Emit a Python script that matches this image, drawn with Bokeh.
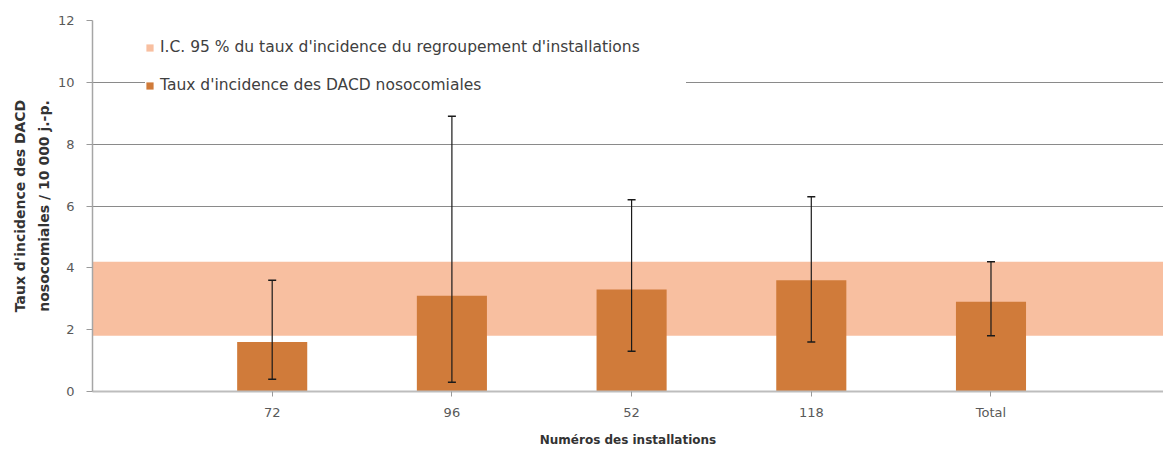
from bokeh.plotting import figure
from bokeh.models import (ColumnDataSource, Whisker, TeeHead, Range1d, FixedTicker,
                          Legend, LegendItem)
from bokeh.embed import file_html
from bokeh.resources import INLINE

# ---- data ----
categories = ["72", "96", "52", "118", "Total"]
rates = [1.6, 3.1, 3.3, 3.6, 2.9]
ci_lower = [0.4, 0.3, 1.3, 1.6, 1.8]
ci_upper = [3.6, 8.9, 6.2, 6.3, 4.2]
group_ci_low = 1.8
group_ci_high = 4.2
y_ticks = [0, 2, 4, 6, 8, 10, 12]

label_band = "I.C. 95 % du taux d'incidence du regroupement d'installations"
label_bars = "Taux d'incidence des DACD nosocomiales"
x_title = "Numéros des installations"
y_title = "Taux d'incidence des DACD\nnosocomiales / 10 000 j.-p."

BAR_COLOR = "#D07B3A"
BAND_COLOR = "#F8BFA0"
FONT = "DejaVu Sans"

xpos = list(range(1, len(categories) + 1))
X_START, X_END = 0, 5.96

src = ColumnDataSource(dict(x=xpos, top=rates, lower=ci_lower, upper=ci_upper))

p = figure(width=1163, height=453, x_range=Range1d(X_START, X_END), y_range=Range1d(0, 12),
           output_backend="svg", toolbar_location=None,
           min_border_left=92, min_border_right=0, min_border_top=20, min_border_bottom=62)
p.outline_line_color = None
p.background_fill_color = "white"

band = p.varea(x=[X_START, X_END], y1=[group_ci_low, group_ci_low],
               y2=[group_ci_high, group_ci_high], fill_color=BAND_COLOR, fill_alpha=1)
bars = p.vbar(x="x", top="top", width=0.39, source=src, fill_color=BAR_COLOR, line_color=None)

wh = Whisker(base="x", upper="upper", lower="lower", source=src, level="overlay",
             line_color="#1a1a1a", line_width=1.2,
             upper_head=TeeHead(size=8, line_color="#1a1a1a", line_width=1.5),
             lower_head=TeeHead(size=8, line_color="#1a1a1a", line_width=1.5))
p.add_layout(wh)

# grid
p.xgrid.grid_line_color = None
p.ygrid.grid_line_color = "#8a8a8a"
p.ygrid.grid_line_width = 1
p.ygrid.ticker = FixedTicker(ticks=y_ticks)

# x axis
p.xaxis.ticker = FixedTicker(ticks=xpos)
p.xaxis.major_label_overrides = {x: c for x, c in zip(xpos, categories)}
p.xaxis.axis_line_color = "#bdbdbd"
p.xaxis.axis_line_width = 2
p.xaxis.major_tick_line_color = "#9a9a9a"
p.xaxis.major_tick_out = 5
p.xaxis.major_tick_in = 0
p.xaxis.minor_tick_line_color = None
p.xaxis.major_label_standoff = 8
p.xaxis.major_label_text_font = FONT
p.xaxis.major_label_text_font_size = "13px"
p.xaxis.major_label_text_color = "#595959"
p.xaxis.axis_label = x_title
p.xaxis.axis_label_text_font = FONT
p.xaxis.axis_label_text_font_style = "bold"
p.xaxis.axis_label_text_font_size = "12px"
p.xaxis.axis_label_text_color = "#333333"
p.xaxis.axis_label_standoff = 10

# y axis
p.yaxis.ticker = FixedTicker(ticks=y_ticks)
p.yaxis.axis_line_color = "#a6a6a6"
p.yaxis.axis_line_width = 1.5
p.yaxis.major_tick_line_color = "#9a9a9a"
p.yaxis.major_tick_out = 6
p.yaxis.major_tick_in = 0
p.yaxis.minor_tick_line_color = None
p.yaxis.major_label_standoff = 12
p.yaxis.major_label_text_font = FONT
p.yaxis.major_label_text_font_size = "13px"
p.yaxis.major_label_text_color = "#595959"
p.yaxis.axis_label = y_title
p.yaxis.axis_label_text_font = FONT
p.yaxis.axis_label_text_font_style = "bold"
p.yaxis.axis_label_text_font_size = "14px"
p.yaxis.axis_label_text_color = "#333333"
p.yaxis.axis_label_text_line_height = 1.5
p.yaxis.axis_label_standoff = 3

legend = Legend(items=[LegendItem(label=label_band, renderers=[band]),
                       LegendItem(label=label_bars, renderers=[bars])],
                location=(53, 296))
legend.glyph_width = 9
legend.glyph_height = 9
legend.label_height = 20
legend.label_standoff = 6
legend.spacing = 18
legend.padding = 10
legend.margin = 0
legend.border_line_color = None
legend.background_fill_color = "white"
legend.background_fill_alpha = 1
legend.label_text_font = FONT
legend.label_text_font_size = "15.5px"
legend.label_text_color = "#404040"
legend.label_width = 526
p.add_layout(legend)

open("out.html", "w").write(file_html(p, INLINE))
